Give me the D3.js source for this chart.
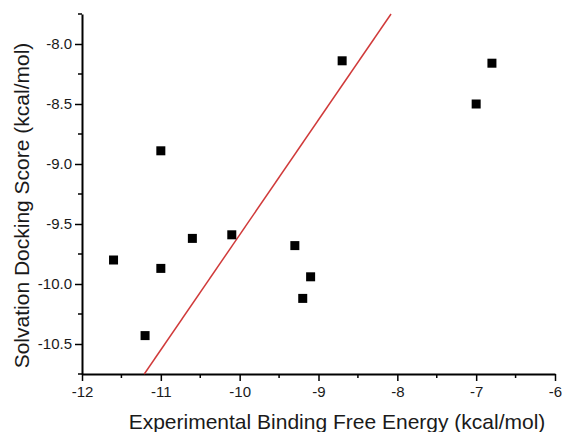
<!DOCTYPE html>
<html>
<head>
<meta charset="utf-8">
<script src="https://cdn.jsdelivr.net/npm/d3@7"></script>
<style>
  html, body { margin: 0; padding: 0; background: #fff; }
  svg { display: block; font-family: "Liberation Sans", Arial, sans-serif; }
</style>
</head>
<body>
<svg id="chart" width="562" height="432"></svg>
<script>
// Data
const expEnergy   = [-11.6, -11.2, -11.0, -11.0, -10.6, -10.1, -9.3, -9.1, -9.2, -8.7, -6.8, -7.0];
const dockScore   = [-9.80, -10.43, -9.87, -8.89, -9.62, -9.59, -9.68, -9.94, -10.12, -8.14, -8.16, -8.50];
const fitLineX    = [-11.21, -8.08];
const fitLineY    = [-10.75, -7.75];
const xTicks      = [-12, -11, -10, -9, -8, -7, -6];
const yTicks      = [-8.0, -8.5, -9.0, -9.5, -10.0, -10.5];
const xTitle      = "Experimental Binding Free Energy (kcal/mol)";
const yTitle      = "Solvation Docking Score (kcal/mol)";

(function () {
const svg = d3.select("#chart");
const pLeft = 82, pRight = 555, pTop = 14, pBottom = 374;

const x = d3.scaleLinear().domain([-12, -6]).range([pLeft, pRight]);
const y = d3.scaleLinear().domain([-10.75, -7.75]).range([pBottom, pTop]);

const hy = f => d => f(d).replace("\u2212", "-");

// minor ticks
const xMinor = d3.range(-12, -5.99, 0.5).filter(v => !xTicks.includes(v));
const yMinor = d3.range(-10.75, -7.74, 0.25).filter(v => !yTicks.some(t => Math.abs(t - v) < 1e-6));

const g = svg.append("g");

g.selectAll(".xminor").data(xMinor).enter().append("line")
  .attr("x1", d => x(d)).attr("x2", d => x(d))
  .attr("y1", pBottom).attr("y2", pBottom + 4)
  .attr("stroke", "#000").attr("stroke-width", 1.5);
g.selectAll(".yminor").data(yMinor).enter().append("line")
  .attr("y1", d => y(d)).attr("y2", d => y(d))
  .attr("x1", pLeft).attr("x2", pLeft - 4)
  .attr("stroke", "#000").attr("stroke-width", 1.5);

const xAxis = d3.axisBottom(x).tickValues(xTicks).tickFormat(hy(d3.format("d")))
  .tickSizeInner(7).tickSizeOuter(0).tickPadding(5);
const yAxis = d3.axisLeft(y).tickValues(yTicks).tickFormat(hy(d3.format(".1f")))
  .tickSizeInner(7).tickSizeOuter(0).tickPadding(3);

const gx = svg.append("g").attr("transform", `translate(0,${pBottom})`).call(xAxis);
const gy = svg.append("g").attr("transform", `translate(${pLeft},0)`).call(yAxis);

[gx, gy].forEach(a => {
  a.select(".domain").attr("stroke", "#000").attr("stroke-width", 2);
  a.selectAll(".tick line").attr("stroke", "#000").attr("stroke-width", 1.5);
  a.selectAll(".tick text").attr("fill", "#1a1a1a")
    .style("font-size", "15px").style("font-family", "'Liberation Sans', Arial, sans-serif");
});

// fit line
svg.append("line")
  .attr("x1", x(fitLineX[0])).attr("y1", y(fitLineY[0]))
  .attr("x2", x(fitLineX[1])).attr("y2", y(fitLineY[1]))
  .attr("stroke", "#d03a3a").attr("stroke-width", 1.5);

// points
const pts = expEnergy.map((v, i) => ({ x: v, y: dockScore[i] }));
const s = 9;
svg.selectAll(".pt").data(pts).enter().append("rect")
  .attr("x", d => x(d.x) - s / 2).attr("y", d => y(d.y) - s / 2)
  .attr("width", s).attr("height", s).attr("fill", "#000");

// titles
svg.append("text")
  .attr("x", 337).attr("y", 429)
  .attr("text-anchor", "middle")
  .style("font-size", "21px").attr("fill", "#1a1a1a")
  .text(xTitle);

svg.append("text")
  .attr("transform", "translate(29,205.5) rotate(-90)")
  .attr("text-anchor", "middle")
  .style("font-size", "21px").attr("fill", "#1a1a1a")
  .text(yTitle);
})();
</script>
</body>
</html>
